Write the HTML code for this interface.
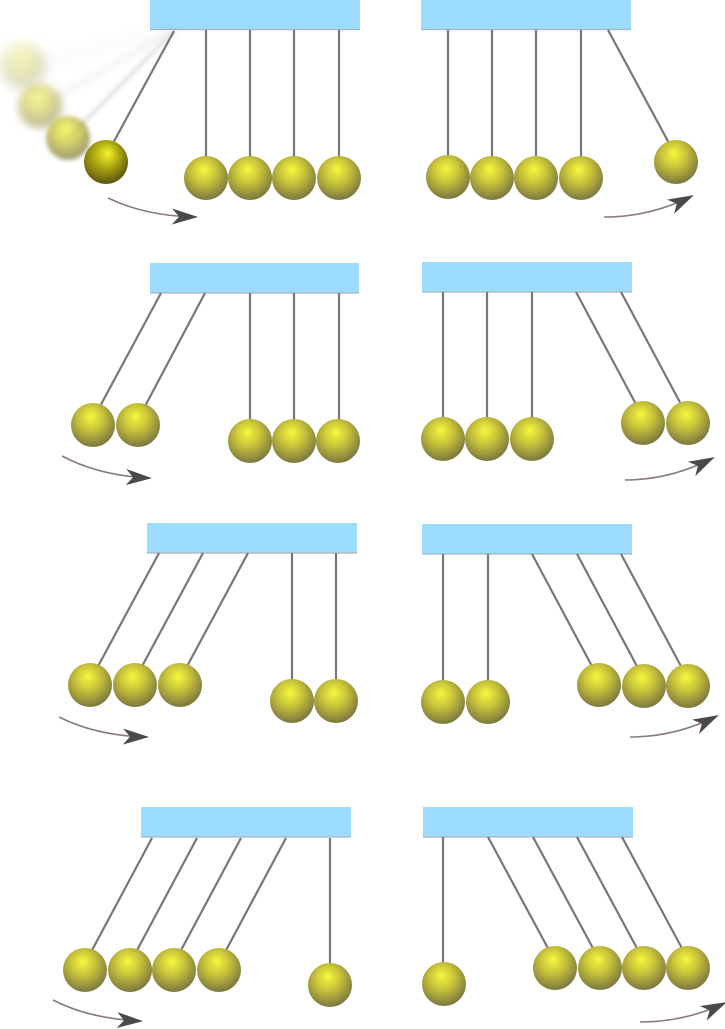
<!DOCTYPE html>
<html><head><meta charset="utf-8"><style>html,body{margin:0;padding:0;background:#fff}svg{display:block}</style></head>
<body>
<svg width="725" height="1029" viewBox="0 0 725 1029" xmlns="http://www.w3.org/2000/svg">
<defs>
<radialGradient id="g" cx="0.45" cy="0.38" r="0.62" fx="0.45" fy="0.3">
<stop offset="0" stop-color="#f6f73e"/>
<stop offset="0.45" stop-color="#c9c53a"/>
<stop offset="1" stop-color="#7d7740"/>
</radialGradient>
<radialGradient id="gd" cx="0.45" cy="0.38" r="0.62" fx="0.55" fy="0.3">
<stop offset="0" stop-color="#f4f42a"/>
<stop offset="0.5" stop-color="#a9a410"/>
<stop offset="1" stop-color="#5c5410"/>
</radialGradient>
<filter id="b1" x="-50%" y="-50%" width="200%" height="200%"><feGaussianBlur stdDeviation="2"/></filter>
<filter id="b2" x="-50%" y="-50%" width="200%" height="200%"><feGaussianBlur stdDeviation="4"/></filter>
<filter id="b3" x="-50%" y="-50%" width="200%" height="200%"><feGaussianBlur stdDeviation="6"/></filter>
<marker id="ah" viewBox="0 0 26 16" refX="24" refY="8" markerWidth="26" markerHeight="16" markerUnits="userSpaceOnUse" orient="auto">
<path d="M0,0 L26,8 L0,16 L7,8 Z" fill="#4a4a4a"/>
</marker>
</defs>
<g fill="#9cdcff">
<rect x="150" y="0" width="210" height="29"/>
<rect x="421" y="0" width="210" height="29"/>
<rect x="150" y="263" width="209" height="30"/>
<rect x="422" y="262" width="210" height="30"/>
<rect x="147" y="523" width="210" height="30"/>
<rect x="422" y="524" width="210" height="30"/>
<rect x="141" y="807" width="210" height="30"/>
<rect x="423" y="807" width="210" height="30"/>
</g>
<g stroke="#a8b4bc" stroke-width="1.2">
<line x1="150" y1="29.5" x2="360" y2="29.5"/><line x1="421" y1="29.5" x2="631" y2="29.5"/>
<line x1="150" y1="293" x2="359" y2="293"/><line x1="422" y1="292" x2="632" y2="292"/>
<line x1="147" y1="553" x2="357" y2="553"/><line x1="422" y1="554" x2="632" y2="554"/>
<line x1="141" y1="837" x2="351" y2="837"/><line x1="423" y1="837" x2="633" y2="837"/>
</g>
<!-- ghosts -->
<g opacity="0.35" stroke="#9a9098" stroke-width="3">
<line x1="174" y1="31" x2="23" y2="66" filter="url(#b3)" opacity="0.4"/>
<line x1="174" y1="31" x2="40" y2="106" filter="url(#b2)" opacity="0.6"/>
<line x1="174" y1="31" x2="68" y2="138" filter="url(#b1)"/>
</g>
<circle cx="23" cy="66" r="22" fill="url(#g)" opacity="0.35" filter="url(#b3)"/>
<circle cx="40" cy="106" r="22" fill="url(#g)" opacity="0.55" filter="url(#b2)"/>
<circle cx="68" cy="138" r="22" fill="url(#g)" opacity="0.75" filter="url(#b1)"/>
<g stroke="#7d7478" stroke-width="2.2">
<!-- p1 -->
<line x1="174" y1="31" x2="112" y2="145"/>
<line x1="206" y1="30" x2="206" y2="160"/><line x1="250" y1="30" x2="250" y2="160"/><line x1="294" y1="30" x2="294" y2="160"/><line x1="339" y1="30" x2="339" y2="160"/>
<!-- p2 -->
<line x1="448" y1="30" x2="448" y2="160"/><line x1="492" y1="30" x2="492" y2="160"/><line x1="536" y1="30" x2="536" y2="160"/><line x1="581" y1="30" x2="581" y2="160"/>
<line x1="608" y1="30" x2="670" y2="145"/>
<!-- p3 -->
<line x1="161" y1="293" x2="98" y2="410"/><line x1="205" y1="293" x2="143" y2="410"/>
<line x1="250" y1="293" x2="250" y2="425"/><line x1="294" y1="293" x2="294" y2="425"/><line x1="339" y1="293" x2="339" y2="425"/>
<!-- p4 -->
<line x1="443" y1="292" x2="443" y2="423"/><line x1="487" y1="292" x2="487" y2="423"/><line x1="532" y1="292" x2="532" y2="423"/>
<line x1="576" y1="292" x2="638" y2="408"/><line x1="621" y1="292" x2="683" y2="408"/>
<!-- p5 -->
<line x1="159" y1="553" x2="96" y2="670"/><line x1="203" y1="553" x2="140" y2="670"/><line x1="248" y1="553" x2="185" y2="670"/>
<line x1="292" y1="553" x2="292" y2="685"/><line x1="336" y1="553" x2="336" y2="685"/>
<!-- p6 -->
<line x1="443" y1="554" x2="443" y2="686"/><line x1="488" y1="554" x2="488" y2="686"/>
<line x1="532" y1="554" x2="594" y2="670"/><line x1="577" y1="554" x2="639" y2="670"/><line x1="621" y1="554" x2="683" y2="670"/>
<!-- p7 -->
<line x1="152" y1="838" x2="90" y2="954"/><line x1="197" y1="838" x2="135" y2="954"/><line x1="241" y1="838" x2="179" y2="954"/><line x1="286" y1="838" x2="224" y2="954"/>
<line x1="330" y1="838" x2="330" y2="968"/>
<!-- p8 -->
<line x1="443" y1="837" x2="443" y2="968"/>
<line x1="488" y1="837" x2="550" y2="952"/><line x1="533" y1="837" x2="595" y2="952"/><line x1="577" y1="837" x2="639" y2="952"/><line x1="622" y1="837" x2="684" y2="952"/>
</g>
<circle cx="106" cy="162" r="22" fill="url(#gd)"/>
<g fill="url(#g)">
<circle cx="206" cy="178" r="22"/><circle cx="250" cy="178" r="22"/><circle cx="294" cy="178" r="22"/><circle cx="339" cy="178" r="22"/>
<circle cx="448" cy="177" r="22"/><circle cx="492" cy="178" r="22"/><circle cx="536" cy="178" r="22"/><circle cx="581" cy="178" r="22"/><circle cx="676" cy="162" r="22"/>
<circle cx="93" cy="425" r="22"/><circle cx="138" cy="425" r="22"/><circle cx="250" cy="441" r="22"/><circle cx="294" cy="441" r="22"/><circle cx="338" cy="441" r="22"/>
<circle cx="443" cy="439" r="22"/><circle cx="487" cy="439" r="22"/><circle cx="532" cy="439" r="22"/><circle cx="643" cy="423" r="22"/><circle cx="688" cy="423" r="22"/>
<circle cx="90" cy="685" r="22"/><circle cx="135" cy="685" r="22"/><circle cx="180" cy="685" r="22"/><circle cx="292" cy="701" r="22"/><circle cx="336" cy="701" r="22"/>
<circle cx="443" cy="702" r="22"/><circle cx="488" cy="702" r="22"/><circle cx="599" cy="685" r="22"/><circle cx="644" cy="686" r="22"/><circle cx="688" cy="686" r="22"/>
<circle cx="85" cy="970" r="22"/><circle cx="130" cy="970" r="22"/><circle cx="174" cy="970" r="22"/><circle cx="219" cy="970" r="22"/><circle cx="330" cy="985" r="22"/>
<circle cx="444" cy="984" r="22"/><circle cx="555" cy="968" r="22"/><circle cx="600" cy="968" r="22"/><circle cx="644" cy="968" r="22"/><circle cx="688" cy="968" r="22"/>
</g>
<g fill="none" stroke="#8a7a80" stroke-width="1.6" marker-end="url(#ah)">
<path d="M108,198 Q145,216 196,217"/>
<path d="M604,217 Q650,217 692,196"/>
<path d="M62,456 Q100,476 150,478"/>
<path d="M625,480 Q670,480 713,458"/>
<path d="M59,717 Q97,736 147,737"/>
<path d="M630,737 Q675,737 717,716"/>
<path d="M53,1000 Q90,1019 141,1021"/>
<path d="M640,1022 Q685,1022 725,1003"/>
</g>
</svg>
</body></html>
